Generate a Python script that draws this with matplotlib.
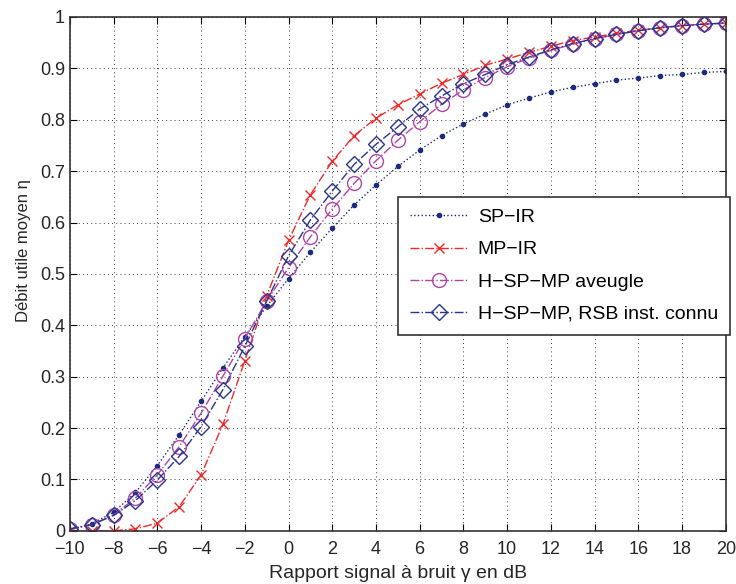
import numpy as np
import matplotlib.pyplot as plt

plt.rcParams['font.family'] = ['Liberation Sans', 'DejaVu Sans']

# rapport signal a bruit (dB)
snr = np.arange(-10, 21)

sp_ir = [0.002, 0.014, 0.036, 0.075, 0.127, 0.187, 0.252, 0.317, 0.378, 0.437,
         0.491, 0.542, 0.589, 0.634, 0.673, 0.709, 0.741, 0.769, 0.792, 0.811,
         0.829, 0.842, 0.854, 0.863, 0.870, 0.877, 0.881, 0.886, 0.888, 0.892, 0.894]

mp_ir = [0.0, 0.0, 0.0, 0.004, 0.015, 0.047, 0.109, 0.207, 0.331, 0.457,
         0.565, 0.654, 0.719, 0.769, 0.803, 0.829, 0.850, 0.871, 0.888, 0.906,
         0.918, 0.931, 0.943, 0.954, 0.961, 0.968, 0.974, 0.979, 0.983, 0.986, 0.988]

hsp_aveugle = [0.003, 0.012, 0.031, 0.064, 0.109, 0.164, 0.229, 0.301, 0.374, 0.447,
               0.512, 0.572, 0.626, 0.676, 0.720, 0.760, 0.796, 0.830, 0.858, 0.882,
               0.903, 0.920, 0.935, 0.947, 0.957, 0.966, 0.973, 0.979, 0.983, 0.986, 0.988]

hsp_connu = [0.004, 0.012, 0.030, 0.059, 0.099, 0.145, 0.203, 0.275, 0.359, 0.447,
             0.535, 0.605, 0.661, 0.713, 0.752, 0.786, 0.821, 0.846, 0.870, 0.888,
             0.907, 0.922, 0.936, 0.948, 0.958, 0.966, 0.973, 0.979, 0.983, 0.986, 0.988]

xticks = np.arange(-10, 21, 2)
yticks = np.round(np.arange(0, 1.01, 0.1), 1)
ylabels = ['0'] + ['%.1f' % v for v in yticks[1:-1]] + ['1']

fig = plt.figure(figsize=(7.36, 5.84), dpi=100)
ax = fig.add_axes([0.095, 0.091, 0.891, 0.880])

ax.plot(snr, sp_ir, ':', color='#1c2a80', marker='.', markersize=6, lw=1,
        label='SP\u2212IR')
ax.plot(snr, mp_ir, '-.', color='#ee2a2a', marker='x', markersize=7,
        markeredgewidth=1, lw=1, label='MP\u2212IR')
ax.plot(snr, hsp_aveugle, '-.', color='#b044a8', marker='o', markersize=10,
        markerfacecolor='none', markeredgewidth=1, lw=1,
        label='H\u2212SP\u2212MP aveugle')
ax.plot(snr, hsp_connu, '-.', color='#2a3590', marker='D', markersize=8,
        markerfacecolor='none', markeredgewidth=1, lw=1,
        label='H\u2212SP\u2212MP, RSB inst. connu')

ax.set_xlim(-10, 20)
ax.set_ylim(0, 1)
ax.set_xticks(xticks)
ax.set_yticks(yticks)
ax.set_yticklabels(ylabels)
ax.tick_params(direction='in', top=True, right=True, length=5, labelsize=13,
               labelcolor='#262626')
ax.tick_params(axis='x', pad=7)
ax.grid(True, color='black', linestyle=(0, (1, 4)), linewidth=0.6)
for s in ax.spines.values():
    s.set_linewidth(1.2)
    s.set_color('#333333')

ax.set_xlabel('Rapport signal \u00e0 bruit \u03b3 en dB', fontsize=14,
              labelpad=5, color='#262626')
ax.set_ylabel('D\u00e9bit utile moyen \u03b7', fontsize=12, color='#262626')
ax.yaxis.set_label_coords(-0.06, 0.545)

leg = ax.legend(loc='upper left', bbox_to_anchor=(398 / 736, 1 - 197 / 584),
                bbox_transform=fig.transFigure, borderaxespad=0, fontsize=14,
                fancybox=False, framealpha=1, edgecolor='#333333',
                borderpad=0.6, labelspacing=0.75, handlelength=3.0,
                handletextpad=0.5)
leg.get_frame().set_linewidth(1.2)

plt.savefig('out.png', dpi=100)
